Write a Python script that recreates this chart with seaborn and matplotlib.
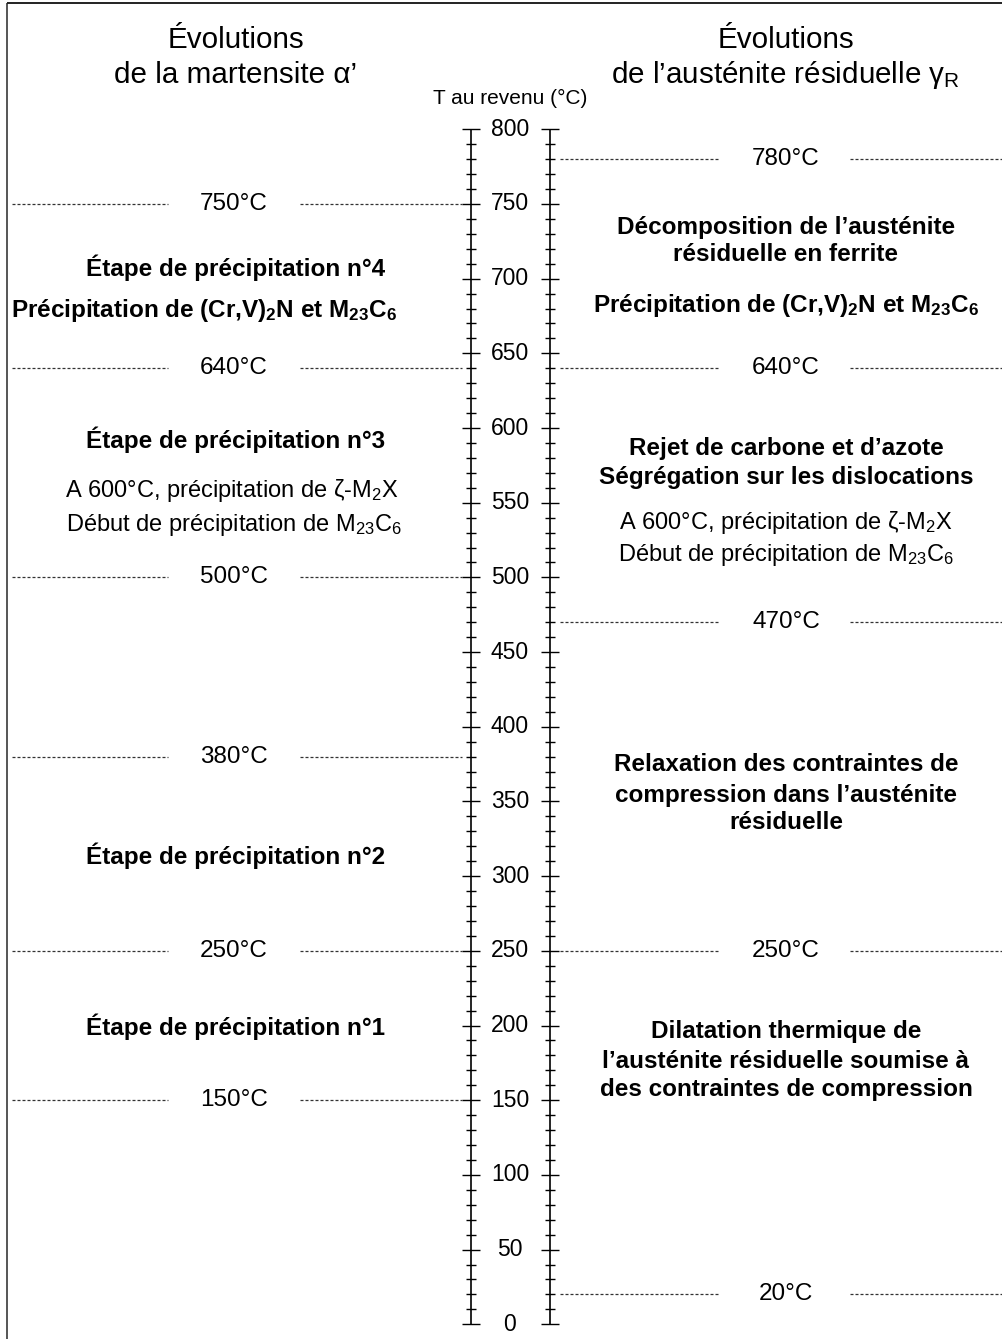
import matplotlib
matplotlib.use("Agg")
import matplotlib.pyplot as plt
import seaborn as sns

# Échelle des températures de revenu (°C)
graduations = list(range(0, 801, 50))
petites_graduations = [t for t in range(0, 801, 10) if t % 50]

# Bornes des domaines (°C)
bornes_martensite = [750, 640, 500, 380, 250, 150]
bornes_austenite = [780, 640, 470, 250, 20]

# Textes de chaque colonne et température du centre de la ligne
textes_martensite = [
    "Étape de précipitation n°4",
    r"Précipitation de (Cr,V)$_{\mathbf{2}}$N et M$_{\mathbf{23}}$C$_{\mathbf{6}}$",
    "Étape de précipitation n°3",
    r"A 600°C, précipitation de ζ-M$_2$X",
    r"Début de précipitation de M$_{23}$C$_6$",
    "Étape de précipitation n°2",
    "Étape de précipitation n°1",
]
t_textes_martensite = [707, 679, 592, 558, 535, 314, 199]
gras_martensite = [True, True, True, False, False, True, True]
x_textes_martensite = [236, 204, 236, 232, 234, 236, 236]

textes_austenite = [
    "Décomposition de l’austénite",
    "résiduelle en ferrite",
    r"Précipitation de (Cr,V)$_{\mathbf{2}}$N et M$_{\mathbf{23}}$C$_{\mathbf{6}}$",
    "Rejet de carbone et d’azote",
    "Ségrégation sur les dislocations",
    r"A 600°C, précipitation de ζ-M$_2$X",
    r"Début de précipitation de M$_{23}$C$_6$",
    "Relaxation des contraintes de",
    "compression dans l’austénite",
    "résiduelle",
    "Dilatation thermique de",
    "l’austénite résiduelle soumise à",
    "des contraintes de compression",
]
t_textes_austenite = [734, 716, 682, 586, 567, 537, 515, 375, 354, 336, 196, 176, 157]
gras_austenite = [True, True, True, True, True, False, False,
                  True, True, True, True, True, True]

sns.set_theme(style="white")
plt.rcParams["font.family"] = ["Liberation Sans", "DejaVu Sans"]
plt.rcParams["text.color"] = "black"
plt.rcParams["mathtext.fontset"] = "custom"
plt.rcParams["mathtext.rm"] = "Liberation Sans"
plt.rcParams["mathtext.it"] = "Liberation Sans:italic"
plt.rcParams["mathtext.bf"] = "Liberation Sans:bold"

fig = plt.figure(figsize=(10.02, 13.39), dpi=100)
ax = fig.add_axes([0, 0, 1, 1])
ax.set_xlim(0, 1002)
ax.set_ylim(-9.84, 886.56)
ax.axis("off")

# cadre (gauche et haut)
ax.vlines(7, -20, 884.5, color="#555555", lw=1.4)
ax.hlines(884.5, 7, 1002, color="#222222", lw=1.4)

# les deux axes gradués
x_axes = [471, 550]
for xa in x_axes:
    ax.vlines(xa, 0, 800, color="black", lw=1.2)
    ax.hlines(graduations, xa - 9, xa + 9, color="black", lw=1.0)
    ax.hlines(petites_graduations, xa - 5, xa + 5, color="black", lw=1.0)
for t in graduations:
    ax.text(510, t, str(t), ha="center", va="center", fontsize=16.5)
ax.text(510, 820.5, "T au revenu (°C)", ha="center", va="center", fontsize=15)

style_tirets = dict(color="#333333", lw=0.9, linestyles=(0, (2.4, 1.6)))

# domaines martensite (colonne gauche)
for t in bornes_martensite:
    ax.hlines(t, 12, 168, **style_tirets)
    ax.hlines(t, 300, 462, **style_tirets)
    ax.text(234, t, f"{t}°C", ha="center", va="center", fontsize=17.5)
for s, t, g, x in zip(textes_martensite, t_textes_martensite, gras_martensite,
                      x_textes_martensite):
    ax.text(x, t, s, ha="center", va="center", fontsize=17.5 if g else 17,
            fontweight="bold" if g else "normal")

# domaines austénite (colonne droite)
for t in bornes_austenite:
    ax.hlines(t, 560, 720, **style_tirets)
    ax.hlines(t, 850, 1002, **style_tirets)
    ax.text(786, t, f"{t}°C", ha="center", va="center", fontsize=17.5)
for s, t, g in zip(textes_austenite, t_textes_austenite, gras_austenite):
    ax.text(786, t, s, ha="center", va="center", fontsize=17.5 if g else 17,
            fontweight="bold" if g else "normal")

# titres
ax.text(236, 859.8, "Évolutions", ha="center", va="center", fontsize=21.3)
ax.text(236, 836.4, "de la martensite α’", ha="center", va="center", fontsize=21.3)
ax.text(786, 859.8, "Évolutions", ha="center", va="center", fontsize=21.3)
ax.text(786, 836.4, r"de l’austénite résiduelle γ$_{\mathrm{R}}$", ha="center",
        va="center", fontsize=21.3)

fig.savefig("out.png", dpi=100)
